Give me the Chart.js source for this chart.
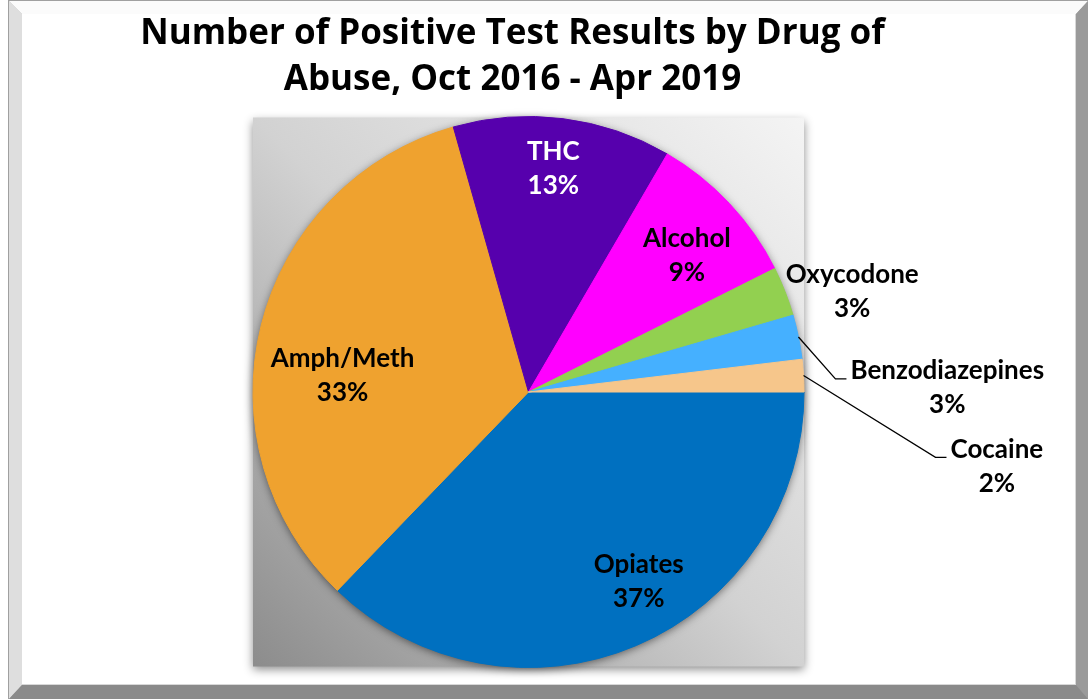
<!DOCTYPE html>
<html>
<head>
<meta charset="utf-8">
<title>Number of Positive Test Results by Drug of Abuse</title>
<script src="https://cdn.jsdelivr.net/npm/chart.js@4.4.1/dist/chart.umd.min.js"></script>
<style>
    html, body { margin: 0; padding: 0; background: #fff; }
    canvas { display: block; }
</style>
</head>
<body>
<canvas id="drug-chart" width="1088" height="699"></canvas>
<script>
const titleLines = ['Number of Positive Test Results by Drug of', 'Abuse, Oct 2016 - Apr 2019'];
const categories = ['Opiates', 'Amph/Meth', 'THC', 'Alcohol', 'Oxycodone', 'Benzodiazepines', 'Cocaine'];
const shares = [37.2, 33.4, 12.8, 9.2, 2.9, 2.6, 1.9]; // percent of positive results

const sliceColors = ['#0070c0', '#efa22f', '#5600ad', '#ff00ff', '#92d050', '#45b0ff', '#f6c68b'];
const labelColors = ['#000', '#000', '#fff', '#000', '#000', '#000', '#000'];
// label centre as [dx, dy] from the pie centre, in radii
const labelSpots = [[0.40, 0.69], [-0.675, -0.06], [0.09, -0.81], [0.575, -0.495], [1.175, -0.365], [1.52, -0.015], [1.70, 0.27]];
const leaderLabels = ['Benzodiazepines', 'Cocaine'];

const FONT = 'Lato, "Liberation Sans", sans-serif';
const LABEL_SIZE = 26;
const LINE_GAP = 34;

function poly(ctx, color, pts) {
    ctx.fillStyle = color;
    ctx.beginPath();
    pts.forEach(([x, y], i) => i ? ctx.lineTo(x, y) : ctx.moveTo(x, y));
    ctx.closePath();
    ctx.fill();
}

// bevelled picture frame round the whole chart
function drawFrame(ctx, w, h) {
    ctx.fillStyle = '#fff';
    ctx.fillRect(0, 0, w, h);
    ctx.fillStyle = '#a0a0a0';
    ctx.fillRect(8, 0, w - 8, h);
    const l = 9, t = 1, r = w, b = h, il = 22, it = 14, ir = 1076, ib = 685;
    poly(ctx, '#dedede', [[l, t], [il, it], [il, ib], [l, b]]);
    poly(ctx, '#fbfbfb', [[l, t], [r, t], [ir, it], [il, it]]);
    poly(ctx, '#9a9a9a', [[r, t], [r, b], [ir, ib], [ir, it]]);
    poly(ctx, '#8a8a8a', [[l, b], [r, b], [ir, ib], [il, ib]]);
    ctx.fillStyle = '#d8d8d8';
    ctx.fillRect(il, it, ir - il, ib - it);
    ctx.fillStyle = '#fff';
    ctx.fillRect(il, it, ir - il - 1, ib - it - 1);
}

const decorPlugin = {
    id: 'decor',
    beforeDraw(chart) {
        const { ctx, width, height } = chart;
        ctx.save();
        drawFrame(ctx, width, height);
        // shaded panel behind the pie
        const { x, y, outerRadius: r } = chart.getDatasetMeta(0).data[0];
        const g = ctx.createLinearGradient(x - r, y + r, x + r, y - r);
        g.addColorStop(0, '#8c8c8c');
        g.addColorStop(0.5, '#d2d2d2');
        g.addColorStop(1, '#f4f4f4');
        ctx.shadowColor = 'rgba(0, 0, 0, 0.45)';
        ctx.shadowBlur = 9;
        ctx.shadowOffsetY = 3;
        ctx.fillStyle = g;
        ctx.fillRect(x - r, y - r + 1, 2 * r, 2 * r - 2);
        ctx.restore();
    },
    beforeDatasetsDraw(chart) {
        const { ctx } = chart;
        const { x, y, outerRadius: r } = chart.getDatasetMeta(0).data[0];
        ctx.save();
        ctx.shadowColor = 'rgba(0, 0, 0, 0.6)';
        ctx.shadowBlur = 10;
        ctx.shadowOffsetY = 2;
        ctx.fillStyle = '#777';
        ctx.beginPath();
        ctx.arc(x, y, r - 1, 0, Math.PI * 2);
        ctx.fill();
        ctx.restore();
    },
    afterDatasetsDraw(chart) {
        const { ctx } = chart;
        const arcs = chart.getDatasetMeta(0).data;
        const total = shares.reduce((a, b) => a + b, 0);
        ctx.save();
        ctx.font = `bold ${LABEL_SIZE}px ${FONT}`;
        ctx.textAlign = 'center';
        ctx.textBaseline = 'middle';
        arcs.forEach((arc, i) => {
            const { x, y, outerRadius: r, startAngle, endAngle } = arc;
            const cx = x + labelSpots[i][0] * r;
            const cy = y + labelSpots[i][1] * r;
            const pct = Math.round(shares[i] / total * 100) + '%';
            ctx.fillStyle = labelColors[i];
            ctx.fillText(categories[i], cx, cy - LINE_GAP / 2);
            ctx.fillText(pct, cx, cy + LINE_GAP / 2);

            if (leaderLabels.includes(categories[i])) {
                const mid = (startAngle + endAngle) / 2;
                const endX = cx - ctx.measureText(categories[i]).width / 2 - 4;
                const endY = cy - LINE_GAP / 2 + 8;
                ctx.strokeStyle = '#000';
                ctx.lineWidth = 1.3;
                ctx.beginPath();
                ctx.moveTo(x + Math.cos(mid) * r, y + Math.sin(mid) * r);
                ctx.lineTo(endX - 11, endY);
                ctx.lineTo(endX, endY);
                ctx.stroke();
            }
        });
        ctx.restore();
    }
};

new Chart(document.getElementById('drug-chart'), {
    type: 'pie',
    data: {
        labels: categories,
        datasets: [{
            data: shares,
            backgroundColor: sliceColors,
            borderColor: sliceColors,
            borderWidth: 1
        }]
    },
    options: {
        responsive: false,
        animation: false,
        events: [],
        rotation: 90,
        layout: { padding: { left: 100, right: 163, top: 0, bottom: 31 } },
        plugins: {
            // an empty legend box on the left pushes the pie right of the title centre
            legend: {
                display: true,
                position: 'left',
                labels: { filter: () => false, padding: 22 }
            },
            tooltip: { enabled: false },
            title: {
                display: true,
                text: titleLines,
                color: '#000',
                font: { family: '"Open Sans", Lato, sans-serif', size: 35, weight: 'bold', lineHeight: '46px' },
                padding: { top: 11, bottom: 13 }
            }
        }
    },
    plugins: [decorPlugin]
});
</script>
</body>
</html>
